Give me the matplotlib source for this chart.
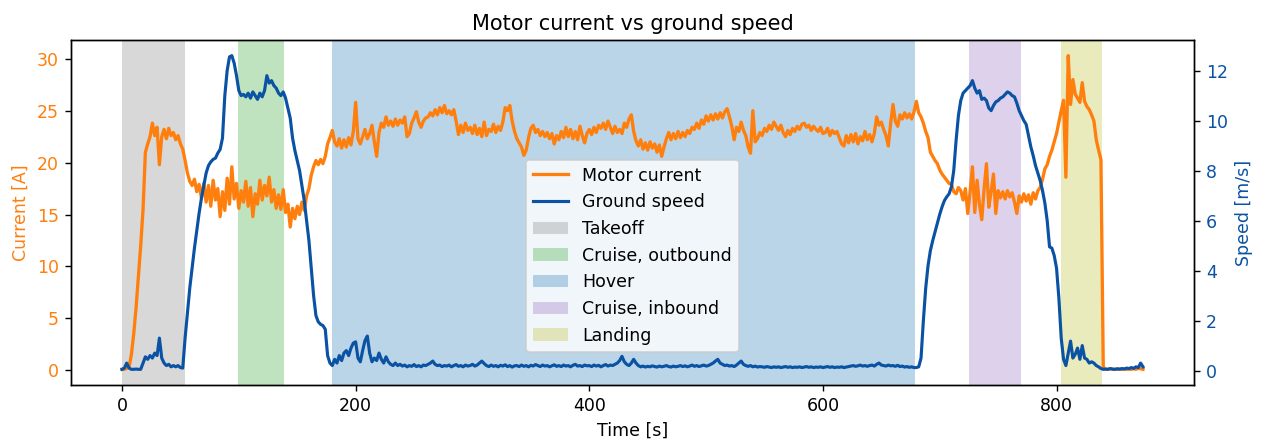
import numpy as np
import matplotlib
matplotlib.use("Agg")
import matplotlib.pyplot as plt

# flight log, sampled every 2 s (t = 0 ... 874 s)
time_s = np.arange(0, 876, 2)

motor_current = [
    0.1, 0.1, 0.2, 0.3, 1.5, 3.5, 6.0, 9.0, 12.0, 15.5,
    21.0, 21.8, 22.5, 23.8, 22.6, 23.4, 19.8, 22.5, 23.2, 22.3,
    23.3, 22.6, 22.9, 22.2, 22.6, 21.8, 21.3, 20.2, 19.0, 18.2,
    17.8, 18.4, 17.2, 17.9, 16.6, 18.0, 16.2, 17.8, 15.8, 18.3,
    16.4, 17.5, 14.8, 17.2, 15.4, 18.5, 16.0, 19.6, 16.5, 18.0,
    15.6, 17.3, 16.2, 18.2, 15.8, 17.6, 14.8, 17.0, 16.0, 18.3,
    16.4, 17.8, 16.8, 18.6, 16.2, 17.4, 15.6, 16.9, 15.5, 17.4,
    15.2, 16.0, 13.8, 15.6, 14.6, 15.8, 15.0, 16.2, 15.4, 16.8,
    17.5, 18.8, 19.6, 20.2, 19.8, 20.3, 19.9, 20.6, 21.8, 22.4,
    23.1, 22.0, 21.6, 22.3, 21.4, 22.2, 21.5, 22.4, 21.7, 23.0,
    25.8, 22.3, 21.8, 22.5, 23.2, 22.3, 22.8, 23.6, 22.0, 20.6,
    22.9, 23.8, 23.4, 24.4, 23.6, 24.0, 23.5, 24.2, 23.6, 24.1,
    23.8, 24.4, 22.5, 22.8, 23.8, 24.3, 24.9, 23.9, 23.4, 24.0,
    24.3, 24.4, 24.8, 24.5, 25.1, 24.6, 25.3, 24.8, 25.5, 24.7,
    25.0, 24.6, 25.1, 24.0, 22.7, 23.6, 22.9, 23.8, 23.1, 23.4,
    22.8, 23.6, 22.7, 23.3, 22.5, 23.9, 22.6, 23.2, 23.0, 23.7,
    22.9, 23.5, 23.1, 23.9, 25.3, 25.0, 25.5, 24.0, 23.0, 22.3,
    21.9, 21.5, 20.7, 21.2, 22.4, 23.3, 23.6, 22.9, 23.2, 22.6,
    23.0, 22.5, 22.9, 22.3, 22.8, 21.8, 22.6, 22.2, 23.0, 22.4,
    23.4, 22.5, 23.2, 22.3, 23.0, 22.2, 23.5, 22.6, 21.9, 22.8,
    23.2, 22.7, 23.4, 22.9, 23.6, 23.3, 23.8, 23.2, 24.0, 23.4,
    22.8, 23.5, 22.9, 23.2, 22.8, 23.8, 23.4, 24.2, 24.6, 23.0,
    22.1, 21.6, 22.2, 21.3, 21.9, 21.2, 22.0, 21.4, 21.8, 21.0,
    21.7, 20.6, 21.5, 22.3, 22.9, 22.2, 22.8, 22.3, 23.0, 22.4,
    22.9, 22.5, 23.1, 22.8, 23.4, 23.2, 23.8, 23.3, 24.1, 23.7,
    24.5, 24.0, 24.6, 24.1, 24.7, 24.2, 24.8, 24.3, 24.9, 25.2,
    24.4, 23.5, 22.2, 23.4, 23.0, 23.9, 23.1, 22.6, 21.5, 20.9,
    25.0, 22.0, 22.3, 22.9, 22.6, 23.3, 23.0, 23.6, 23.2, 23.9,
    23.5, 23.1, 23.6, 22.9, 22.5, 23.1, 22.7, 23.3, 23.0, 23.5,
    23.2, 23.7, 23.8, 23.4, 23.6, 23.1, 23.5, 23.2, 23.0, 23.4,
    22.8, 22.9, 23.3, 22.6, 23.1, 22.8, 23.0, 22.4, 21.8, 21.6,
    22.6, 21.9, 22.7, 22.0, 22.8, 21.8, 22.5, 22.1, 23.0, 22.2,
    22.7, 22.0, 22.8, 24.4, 23.6, 23.9, 23.2, 22.6, 21.6, 23.8,
    25.6, 24.0, 23.5, 24.6, 24.2, 24.8, 24.3, 24.7, 24.2, 24.9,
    25.9, 24.8, 24.4, 23.8, 23.0, 22.4, 21.0, 20.6, 20.2, 19.9,
    19.3, 18.9, 18.6, 18.3, 18.0, 17.9, 17.2, 17.0, 17.6, 17.3,
    16.4, 17.5, 15.1, 17.2, 19.6, 15.2, 18.3, 16.0, 14.5, 17.5,
    19.9, 15.7, 17.2, 18.9, 15.1, 17.3, 16.6, 17.2, 16.5, 17.3,
    16.7, 17.1, 16.2, 15.1, 16.8, 16.2, 17.0, 16.3, 16.9, 16.0,
    17.1, 16.5, 17.3, 17.6, 18.4, 19.4, 19.8, 20.6, 21.2, 22.0,
    22.8, 23.9, 25.0, 26.0, 18.6, 30.3, 25.6, 28.0, 26.6, 26.2,
    25.8, 27.7, 25.9, 25.4, 25.1, 24.6, 24.0, 22.2, 21.2, 20.3,
    0.3, 0.1, 0.1, 0.15, 0.1, 0.1, 0.12, 0.1, 0.1, 0.15,
    0.1, 0.12, 0.1, 0.15, 0.1, 0.2, 0.15, 0.1,
]

ground_speed = [
    0.05, 0.1, 0.3, 0.1, 0.05, 0.05, 0.06, 0.05, 0.05, 0.3,
    0.55, 0.45, 0.6, 0.5, 0.7, 0.6, 1.3, 0.5, 0.3, 0.2,
    0.25, 0.15, 0.2, 0.15, 0.2, 0.12, 0.1, 1.3, 2.3, 3.3,
    4.1, 4.9, 5.6, 6.3, 6.9, 7.4, 7.9, 8.2, 8.35, 8.45,
    8.5, 8.7, 8.85, 9.3, 11.0, 12.0, 12.55, 12.6, 12.3, 11.8,
    11.2, 11.0, 11.05, 10.95, 11.1, 10.9, 11.15, 11.0, 10.85, 11.1,
    10.95, 11.2, 11.8, 11.5, 11.6, 11.4, 11.3, 11.1, 11.0, 11.15,
    10.9, 10.5, 10.1, 9.3, 8.8, 8.4, 8.0, 7.4, 6.8, 6.0,
    5.2, 4.1, 3.0, 2.2, 1.95, 1.85, 1.8, 1.65, 0.6, 0.3,
    0.2, 0.45, 0.3, 0.6, 0.4, 0.7, 0.8, 0.6, 0.9, 1.1,
    1.15, 0.5, 0.35, 0.8, 1.2, 1.38, 0.7, 0.35, 0.5, 0.4,
    0.7, 0.45, 0.3, 0.55, 0.35, 0.25, 0.2, 0.3, 0.2, 0.25,
    0.18, 0.22, 0.15, 0.2, 0.17, 0.24, 0.16, 0.2, 0.15, 0.22,
    0.2, 0.25, 0.3, 0.38, 0.25, 0.2, 0.22, 0.16, 0.2, 0.18,
    0.22, 0.15, 0.2, 0.24, 0.17, 0.2, 0.15, 0.22, 0.18, 0.2,
    0.25, 0.18, 0.22, 0.3, 0.38, 0.28, 0.2, 0.16, 0.22, 0.17,
    0.2, 0.15, 0.21, 0.18, 0.23, 0.16, 0.2, 0.14, 0.19, 0.2,
    0.16, 0.22, 0.17, 0.2, 0.15, 0.21, 0.18, 0.24, 0.2, 0.16,
    0.22, 0.18, 0.2, 0.15, 0.19, 0.23, 0.17, 0.2, 0.16, 0.22,
    0.18, 0.2, 0.15, 0.21, 0.25, 0.18, 0.2, 0.16, 0.22, 0.19,
    0.2, 0.16, 0.22, 0.18, 0.21, 0.15, 0.2, 0.24, 0.18, 0.22,
    0.2, 0.25, 0.3, 0.4, 0.57, 0.35, 0.25, 0.2, 0.3, 0.45,
    0.3, 0.2, 0.15, 0.18, 0.14, 0.17, 0.15, 0.19, 0.16, 0.14,
    0.18, 0.15, 0.17, 0.2, 0.16, 0.14, 0.18, 0.15, 0.17, 0.2,
    0.16, 0.19, 0.15, 0.18, 0.22, 0.17, 0.2, 0.16, 0.19, 0.22,
    0.18, 0.2, 0.25, 0.3, 0.38, 0.45, 0.3, 0.25, 0.2, 0.22,
    0.18, 0.2, 0.16, 0.22, 0.3, 0.38, 0.25, 0.2, 0.17, 0.2,
    0.15, 0.18, 0.14, 0.16, 0.15, 0.13, 0.16, 0.14, 0.12, 0.15,
    0.13, 0.15, 0.12, 0.14, 0.16, 0.13, 0.15, 0.12, 0.14, 0.13,
    0.15, 0.12, 0.14, 0.16, 0.13, 0.15, 0.12, 0.14, 0.13, 0.15,
    0.12, 0.14, 0.16, 0.13, 0.15, 0.12, 0.14, 0.13, 0.15, 0.12,
    0.14, 0.16, 0.18, 0.2, 0.17, 0.19, 0.22, 0.18, 0.2, 0.17,
    0.2, 0.22, 0.18, 0.25, 0.3, 0.22, 0.2, 0.18, 0.22, 0.19,
    0.2, 0.17, 0.21, 0.16, 0.18, 0.14, 0.16, 0.13, 0.15, 0.12,
    0.12, 0.15, 0.5, 2.0, 3.3, 4.2, 4.8, 5.2, 5.55, 5.9,
    6.25, 6.55, 6.8, 6.95, 7.07, 7.35, 8.0, 9.2, 10.2, 10.8,
    11.1, 11.2, 11.3, 11.4, 11.6, 11.3, 11.1, 11.2, 10.85, 10.9,
    10.8, 10.5, 10.4, 10.6, 10.75, 10.8, 10.9, 10.95, 11.05, 11.15,
    11.1, 11.0, 10.95, 10.7, 10.4, 10.2, 10.0, 9.85, 9.4, 8.95,
    8.6, 8.2, 7.9, 7.6, 7.2, 6.7, 6.0, 4.95, 4.9, 4.6,
    4.1, 2.9, 1.3, 0.45, 0.2, 0.7, 1.18, 0.5, 0.65, 0.9,
    0.45, 1.0, 0.5, 0.45, 0.3, 0.35, 0.3, 0.2, 0.15, 0.08,
    0.05, 0.06, 0.05, 0.08, 0.06, 0.05, 0.07, 0.06, 0.08, 0.06,
    0.1, 0.08, 0.12, 0.09, 0.15, 0.12, 0.3, 0.15,
]

# flight phases (start, end in s)
phase_names = ["Takeoff", "Cruise, outbound", "Hover", "Cruise, inbound", "Landing"]
phase_start = [0, 99, 180, 725, 804]
phase_end = [54, 139, 679, 770, 839]
phase_colors = ["tab:gray", "tab:green", "tab:blue", "tab:purple", "tab:olive"]

c_current = "#ff7f0e"
c_speed = "#0a52a3"

fig, ax1 = plt.subplots(figsize=(10.12, 3.512), dpi=125)
fig.subplots_adjust(left=0.0561, right=0.9439, bottom=0.123, top=0.909)

spans = []
for name, a, b, c in zip(phase_names, phase_start, phase_end, phase_colors):
    spans.append(ax1.axvspan(a, b, color=c, alpha=0.3, lw=0, label=name))

l1, = ax1.plot(time_s, motor_current, color=c_current, lw=1.9, label="Motor current")
ax1.set_xlabel("Time [s]")
ax1.set_ylabel("Current [A]", color=c_current)
ax1.tick_params(axis="y", labelcolor=c_current)

ax2 = ax1.twinx()
l2, = ax2.plot(time_s, ground_speed, color=c_speed, lw=1.8, label="Ground speed")
ax2.set_ylabel("Speed [m/s]", color=c_speed)
ax2.tick_params(axis="y", labelcolor=c_speed)

handles = [l1, l2] + spans
ax2.legend(handles, [h.get_label() for h in handles], loc="center",
           bbox_to_anchor=(0.5, 0.375))

ax1.set_title("Motor current vs ground speed")

fig.savefig("out.png", dpi=125)
